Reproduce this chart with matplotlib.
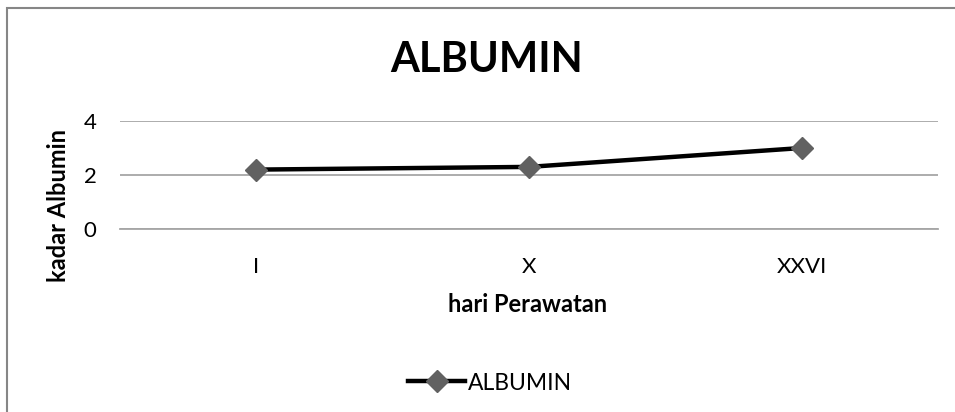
import matplotlib.pyplot as plt
from matplotlib.patches import Rectangle

# data
days = ["I", "X", "XXVI"]
albumin = [2.2, 2.3, 3.0]
y_ticks = [0, 2, 4]

plt.rcParams["font.family"] = ["Lato", "DejaVu Sans"]

fig = plt.figure(figsize=(9.55, 4.12), dpi=100)
ax = fig.add_axes([120/955, 1-229/412, (938-120)/955, (229-121)/412])

# outer chart frame (only left and top edges show in the crop)
fig.patches.append(Rectangle((7/955, -0.2), 1.2, 1.2-8/412, transform=fig.transFigure,
                             fill=False, edgecolor="#868686", linewidth=1.5))

x = range(len(days))
ax.plot(x, albumin, color="black", linewidth=3.2, marker="D", markersize=11,
        markerfacecolor="#616161", markeredgecolor="#616161", label="ALBUMIN", zorder=3)

ax.set_xlim(-0.5, len(days)-0.5)
ax.set_ylim(0, 4)
ax.set_yticks(y_ticks)
ax.set_xticks(list(x))
ax.set_xticklabels(days)
ax.yaxis.grid(True, color="#a6a6a6", linewidth=1.3)
ax.set_axisbelow(True)
for s in ["top", "right", "left"]:
    ax.spines[s].set_visible(False)
ax.spines["bottom"].set_color("#a6a6a6")
ax.spines["bottom"].set_linewidth(1.3)
ax.tick_params(length=0, labelsize=16)
ax.tick_params(axis="y", pad=17)
ax.tick_params(axis="x", pad=20)

fig.text(487/955, 1-60/412, "ALBUMIN", ha="center", va="center", fontsize=30, fontweight="bold")
fig.text(58/955, 1-206/412, "kadar Albumin", rotation=90, ha="center", va="center",
         fontsize=17, fontweight="bold")
fig.text(528/955, 1-305/412, "hari Perawatan", ha="center", va="center",
         fontsize=17, fontweight="bold")

fig.legend(loc="center", bbox_to_anchor=(490/955, 1-383/412), frameon=False,
           fontsize=16.5, handlelength=2.5, handletextpad=0.1)

fig.savefig("out.png", dpi=100)
